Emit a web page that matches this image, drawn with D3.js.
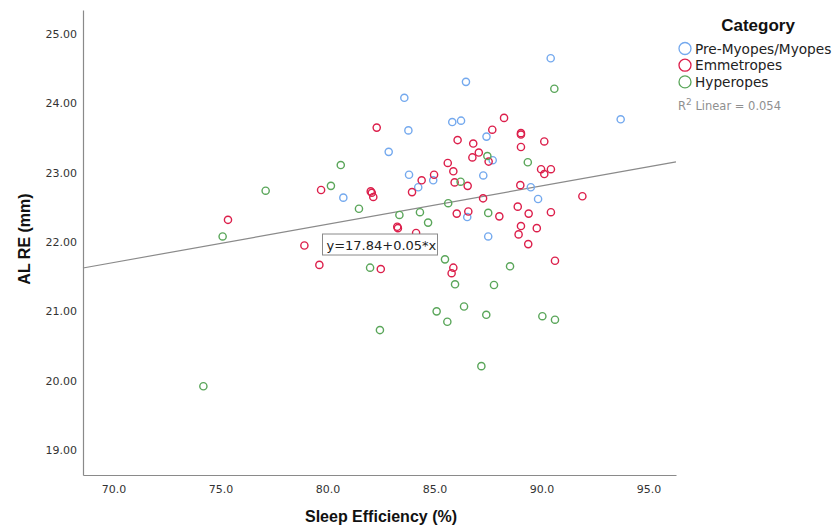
<!DOCTYPE html>
<html>
<head>
<meta charset="utf-8">
<script src="https://cdn.jsdelivr.net/npm/d3@7/dist/d3.min.js"></script>
<style>
  html, body { margin: 0; padding: 0; background: #fff; }
  svg { display: block; }
</style>
</head>
<body>
<svg id="chart" width="837" height="529"></svg>
<script>
// ---------- DATA ----------
const categories = ["Pre-Myopes/Myopes", "Emmetropes", "Hyperopes"];

const myopesX = [90.43, 86.47, 83.59, 85.83, 86.24, 83.78, 87.43, 93.70, 82.86, 87.72, 83.81, 84.94, 84.24, 80.74, 87.28, 89.50, 89.84, 86.53, 87.51];
const myopesY = [24.65, 24.31, 24.08, 23.73, 23.75, 23.61, 23.52, 23.77, 23.30, 23.18, 22.97, 22.89, 22.79, 22.64, 22.96, 22.79, 22.62, 22.36, 22.08];

const emmetropesX = [82.30, 84.98, 84.40, 79.70, 82.02, 82.07, 82.14, 83.95, 83.26, 83.29, 84.14, 78.92, 79.62, 82.49, 75.35,
  88.25, 87.70, 89.04, 89.04, 86.08, 86.81, 90.13, 89.04, 87.07, 86.77, 87.53, 85.62, 85.88, 89.98, 90.44, 90.13, 85.94, 86.55,
  89.01, 87.27, 91.91, 86.04, 86.58, 88.03, 88.89, 89.40, 90.44, 89.04, 89.78, 88.93, 89.38, 85.88, 85.80, 90.63];
const emmetropesY = [23.65, 22.97, 22.89, 22.75, 22.73, 22.71, 22.65, 22.72, 22.22, 22.20, 22.13, 21.95, 21.67, 21.61, 22.32,
  23.79, 23.62, 23.57, 23.55, 23.47, 23.42, 23.45, 23.37, 23.29, 23.22, 23.16, 23.14, 23.02, 23.05, 23.05, 22.98, 22.86, 22.81,
  22.82, 22.63, 22.66, 22.41, 22.44, 22.37, 22.51, 22.41, 22.43, 22.23, 22.20, 22.11, 21.97, 21.63, 21.55, 21.73];

const hyperopesX = [90.60, 80.62, 80.16, 77.11, 75.10, 74.20, 81.47, 83.36, 84.32, 84.70, 81.99, 85.10, 82.45, 87.47,
  89.36, 86.22, 85.64, 87.51, 85.49, 88.53, 85.96, 87.78, 86.38, 85.60, 87.42, 90.04, 90.63, 87.19];
const hyperopesY = [24.21, 23.11, 22.81, 22.74, 22.08, 19.92, 22.48, 22.39, 22.43, 22.28, 21.63, 21.00, 20.73, 23.24,
  23.15, 22.87, 22.56, 22.42, 21.75, 21.65, 21.39, 21.38, 21.07, 20.85, 20.95, 20.93, 20.88, 20.21];

const xTicks = [70, 75, 80, 85, 90, 95];
const yTicks = [19, 20, 21, 22, 23, 24, 25];

const fitIntercept = 17.84;
const fitSlope = 0.0552;
const fitLabel = "y=17.84+0.05*x";
const r2Value = "0.054";

// ---------- LAYOUT ----------
const colors = ["#74a9ee", "#dc1f4b", "#5aa65a"];
const svg = d3.select("#chart");
const plotLeft = 83, plotRight = 676, plotTop = 10, plotBottom = 475;

const x = d3.scaleLinear().domain([68.575, 96.285]).range([plotLeft, plotRight]);
const y = d3.scaleLinear().domain([18.64, 25.346]).range([plotBottom, plotTop]);

// axes
const xAxis = d3.axisBottom(x).tickValues(xTicks).tickFormat(d3.format(".1f")).tickSize(0).tickPadding(10);
const yAxis = d3.axisLeft(y).tickValues(yTicks).tickFormat(d3.format(".2f")).tickSize(0).tickPadding(6);

const gx = svg.append("g").attr("transform", `translate(0,${plotBottom})`).call(xAxis);
const gy = svg.append("g").attr("transform", `translate(${plotLeft},0)`).call(yAxis);
[gx, gy].forEach(g => {
  g.select(".domain").attr("stroke", "#8a8a8a").attr("stroke-width", 1.2);
  g.selectAll("text").attr("font-family", "DejaVu Sans, sans-serif").attr("font-size", 11).attr("fill", "#333");
});

// axis titles
svg.append("text")
  .attr("x", 381).attr("y", 522)
  .attr("text-anchor", "middle")
  .attr("font-family", "Liberation Sans, Arial, sans-serif")
  .attr("font-weight", "bold").attr("font-size", 16).attr("fill", "#111")
  .text("Sleep Efficiency (%)");

svg.append("text")
  .attr("transform", "translate(30,239) rotate(-90)")
  .attr("text-anchor", "middle")
  .attr("font-family", "Liberation Sans, Arial, sans-serif")
  .attr("font-weight", "bold").attr("font-size", 16).attr("fill", "#111")
  .text("AL RE (mm)");

// regression line
const xd = x.domain();
svg.append("line")
  .attr("x1", x(xd[0])).attr("y1", y(fitIntercept + fitSlope * xd[0]))
  .attr("x2", x(xd[1])).attr("y2", y(fitIntercept + fitSlope * xd[1]))
  .attr("stroke", "#8a8a8a").attr("stroke-width", 1.2);

// points
const series = [
  { xs: myopesX, ys: myopesY, c: colors[0] },
  { xs: emmetropesX, ys: emmetropesY, c: colors[1] },
  { xs: hyperopesX, ys: hyperopesY, c: colors[2] }
];
series.forEach(s => {
  svg.append("g").selectAll("circle")
    .data(s.xs.map((v, i) => [v, s.ys[i]]))
    .join("circle")
    .attr("cx", d => x(d[0])).attr("cy", d => y(d[1]))
    .attr("r", 3.6)
    .attr("fill", "none")
    .attr("stroke", s.c).attr("stroke-width", 1.4);
});

// fit label box
const lblX = x(80.0), lblY = y(22.0);
svg.append("rect")
  .attr("x", lblX - 5).attr("y", lblY - 8)
  .attr("width", 115).attr("height", 21)
  .attr("fill", "#fff").attr("stroke", "#8a8a8a").attr("stroke-width", 1);
svg.append("text")
  .attr("x", lblX - 1).attr("y", lblY + 8)
  .attr("font-family", "DejaVu Sans, sans-serif").attr("font-size", 13).attr("fill", "#222")
  .text(fitLabel);

// legend
svg.append("text")
  .attr("x", 758).attr("y", 31)
  .attr("text-anchor", "middle")
  .attr("font-family", "Liberation Sans, Arial, sans-serif")
  .attr("font-weight", "bold").attr("font-size", 17).attr("fill", "#111")
  .text("Category");

const lg = svg.append("g");
categories.forEach((c, i) => {
  const cy = 48.5 + i * 16.7;
  lg.append("circle").attr("cx", 685).attr("cy", cy).attr("r", 6)
    .attr("fill", "none").attr("stroke", colors[i]).attr("stroke-width", 1.3);
  lg.append("text").attr("x", 695).attr("y", cy + 5)
    .attr("font-family", "DejaVu Sans, sans-serif").attr("font-size", 13.7).attr("fill", "#222")
    .text(c);
});

const r2 = svg.append("text").attr("x", 678).attr("y", 110)
  .attr("font-family", "DejaVu Sans, sans-serif").attr("font-size", 11.5).attr("fill", "#8f8f8f");
r2.append("tspan").text("R");
r2.append("tspan").attr("dy", -5).attr("font-size", 9).text("2");
r2.append("tspan").attr("dy", 5).text(" Linear = " + r2Value);
</script>
</body>
</html>
